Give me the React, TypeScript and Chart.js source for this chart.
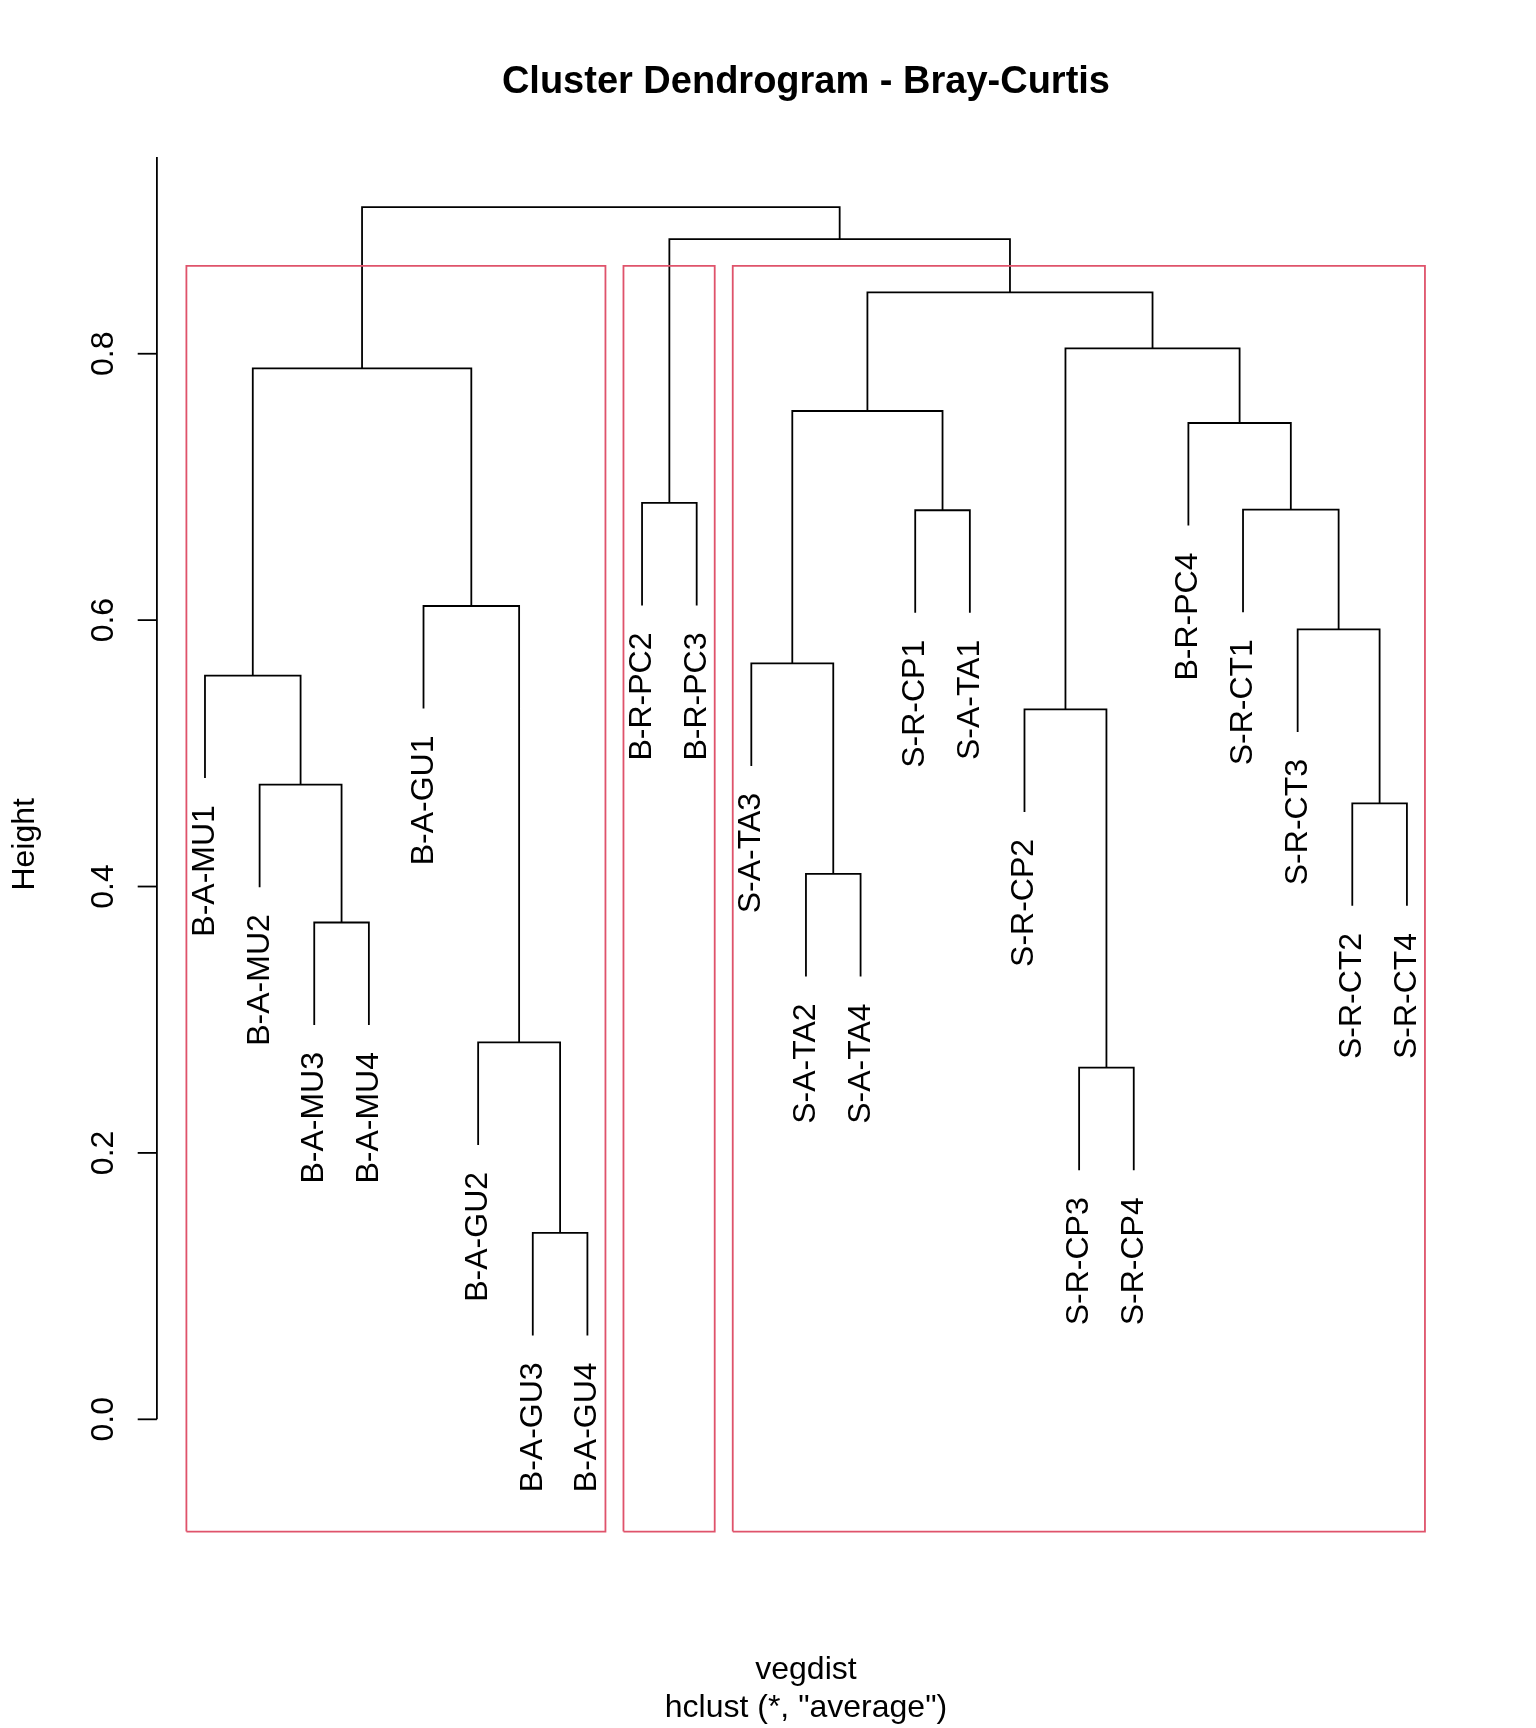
import React, { useEffect, useRef } from "react";
import { Chart, registerables } from "chart.js";

Chart.register(...registerables);

// Leaf labels in dendrogram order (left to right)
const leafLabels = [
  "B-A-MU1", "B-A-MU2", "B-A-MU3", "B-A-MU4", "B-A-GU1", "B-A-GU2", "B-A-GU3", "B-A-GU4",
  "B-R-PC2", "B-R-PC3",
  "S-A-TA3", "S-A-TA2", "S-A-TA4", "S-R-CP1", "S-A-TA1", "S-R-CP2", "S-R-CP3", "S-R-CP4",
  "B-R-PC4", "S-R-CT1", "S-R-CT3", "S-R-CT2", "S-R-CT4",
];

// hclust-style merge table: negative = leaf position (1-based), positive = earlier merge (1-based)
const mergeLeft = [-7, -17, -6, -3, -12, -22, -2, -16, -1, -11, -21, -5, -14, -20, -9, -19, 10, 9, 8, 17, 15, 18];
const mergeRight = [-8, -18, 1, -4, -13, -23, 4, 2, 7, 5, 6, 3, -15, 11, -10, 14, 13, 12, 16, 19, 20, 21];
const mergeHeight = [
  0.140, 0.264, 0.283, 0.373, 0.4095, 0.4625, 0.4765, 0.533, 0.5584, 0.5675, 0.593,
  0.6106, 0.6825, 0.683, 0.688, 0.748, 0.757, 0.789, 0.804, 0.846, 0.886, 0.910,
];

// rect.hclust(k = 3) cluster ranges (leaf positions)
const rectK = 3;
const rectStart = [1, 9, 11];
const rectEnd = [8, 10, 23];

// y-axis ticks
const yTickValues = [0, 0.2, 0.4, 0.6, 0.8];
const yTickLabels = ["0.0", "0.2", "0.4", "0.6", "0.8"];

const titleText = "Cluster Dendrogram - Bray-Curtis";
const subText1 = "vegdist";
const subText2 = 'hclust (*, "average")';
const yAxisTitle = "Height";

const FONT = '"Liberation Sans", Arial, Helvetica, sans-serif';

export default function App() {
  const ref = useRef<HTMLCanvasElement>(null);

  useEffect(() => {
    const canvas = ref.current;
    if (!canvas) return;

    const n = leafLabels.length;
    const hMax = Math.max(...mergeHeight);
    const hMin = Math.min(...mergeHeight);
    const hang = 0.1 * (hMax - hMin);
    const nodeX: number[] = [];
    const leafEnd: number[] = new Array(n + 1).fill(0);
    const getX = (id: number) => (id < 0 ? -id : nodeX[id - 1]);

    const treeSets: any[] = [];
    for (let i = 0; i < mergeHeight.length; i++) {
      const l = mergeLeft[i];
      const r = mergeRight[i];
      const h = mergeHeight[i];
      const xl = getX(l);
      const xr = getX(r);
      const hl = l < 0 ? h - hang : mergeHeight[l - 1];
      const hr = r < 0 ? h - hang : mergeHeight[r - 1];
      if (l < 0) leafEnd[-l] = h - hang;
      if (r < 0) leafEnd[-r] = h - hang;
      nodeX[i] = (xl + xr) / 2;
      treeSets.push({
        type: "line",
        data: [
          { x: xl, y: hl },
          { x: xl, y: h },
          { x: xr, y: h },
          { x: xr, y: hr },
        ],
        borderColor: "#000000",
        borderWidth: 1.8,
        pointRadius: 0,
        fill: false,
        tension: 0,
        clip: false,
        borderJoinStyle: "miter",
        borderCapStyle: "butt",
      });
    }

    const yMin = -0.0843;
    const yMax = 0.9477;

    const sortedDesc = [...mergeHeight].sort((a, b) => b - a);
    const rectTop = (sortedDesc[rectK - 2] + sortedDesc[rectK - 1]) / 2;
    const rectSets: any[] = rectStart.map((s, i) => {
      const l = s - 0.34;
      const r = rectEnd[i] + 0.33;
      return {
        type: "line",
        data: [
          { x: l, y: yMin },
          { x: l, y: rectTop },
          { x: r, y: rectTop },
          { x: r, y: yMin },
          { x: l, y: yMin },
        ],
        borderColor: "#DF536B",
        borderWidth: 1.8,
        pointRadius: 0,
        fill: false,
        tension: 0,
        clip: false,
        borderJoinStyle: "miter",
        borderCapStyle: "butt",
      };
    });

    const decor = {
      id: "rDecor",
      beforeDraw(chart: any) {
        const c = chart.ctx;
        c.save();
        c.fillStyle = "#ffffff";
        c.fillRect(0, 0, chart.width, chart.height);
        c.restore();
      },
      afterDraw(chart: any) {
        const c = chart.ctx as CanvasRenderingContext2D;
        const xs = chart.scales.x;
        const ys = chart.scales.y;
        const area = chart.chartArea;
        const cx = (area.left + area.right) / 2;
        const cy = (area.top + area.bottom) / 2;

        c.save();
        c.fillStyle = "#000000";
        c.strokeStyle = "#000000";

        // Title
        c.font = `bold 38px ${FONT}`;
        c.textAlign = "center";
        c.textBaseline = "alphabetic";
        c.fillText(titleText, cx, 93);

        // Sub titles
        c.font = `32px ${FONT}`;
        c.fillText(subText1, cx, 1679);
        c.fillText(subText2, cx, 1717);

        // Y axis title
        c.save();
        c.translate(34, cy);
        c.rotate(-Math.PI / 2);
        c.textAlign = "center";
        c.fillText(yAxisTitle, 0, 0);
        c.restore();

        // Y axis line and ticks
        const axX = area.left;
        c.lineWidth = 1.8;
        c.beginPath();
        c.moveTo(axX, ys.getPixelForValue(yTickValues[0]));
        c.lineTo(axX, area.top);
        c.stroke();
        yTickValues.forEach((v, i) => {
          const py = ys.getPixelForValue(v);
          c.beginPath();
          c.moveTo(axX, py);
          c.lineTo(axX - 19.2, py);
          c.stroke();
          c.save();
          c.translate(112.5, py);
          c.rotate(-Math.PI / 2);
          c.textAlign = "center";
          c.textBaseline = "alphabetic";
          c.fillText(yTickLabels[i], 0, 0);
          c.restore();
        });

        // Leaf labels
        for (let i = 1; i <= n; i++) {
          const px = xs.getPixelForValue(i);
          const py = ys.getPixelForValue(leafEnd[i]);
          c.save();
          c.translate(px + 9, py + 27);
          c.rotate(-Math.PI / 2);
          c.textAlign = "right";
          c.textBaseline = "alphabetic";
          c.fillText(leafLabels[i - 1], 0, 0);
          c.restore();
        }
        c.restore();
      },
    };

    const chart = new Chart(canvas, {
      type: "line",
      data: { datasets: [...rectSets, ...treeSets] },
      options: {
        animation: false,
        responsive: false,
        devicePixelRatio: 1,
        events: [],
        layout: { padding: { left: 156.9, right: 81, top: 157, bottom: 196.4 } },
        scales: {
          x: { type: "linear", min: 0.12, max: 23.88, display: false },
          y: { type: "linear", min: yMin, max: yMax, display: false },
        },
        plugins: {
          legend: { display: false },
          tooltip: { enabled: false },
          title: { display: false },
        },
      },
      plugins: [decor],
    } as any);

    return () => chart.destroy();
  }, []);

  return (
    <canvas
      ref={ref}
      width={1536}
      height={1728}
      style={{ position: "absolute", left: 0, top: 0, width: 1536, height: 1728 }}
    />
  );
}
